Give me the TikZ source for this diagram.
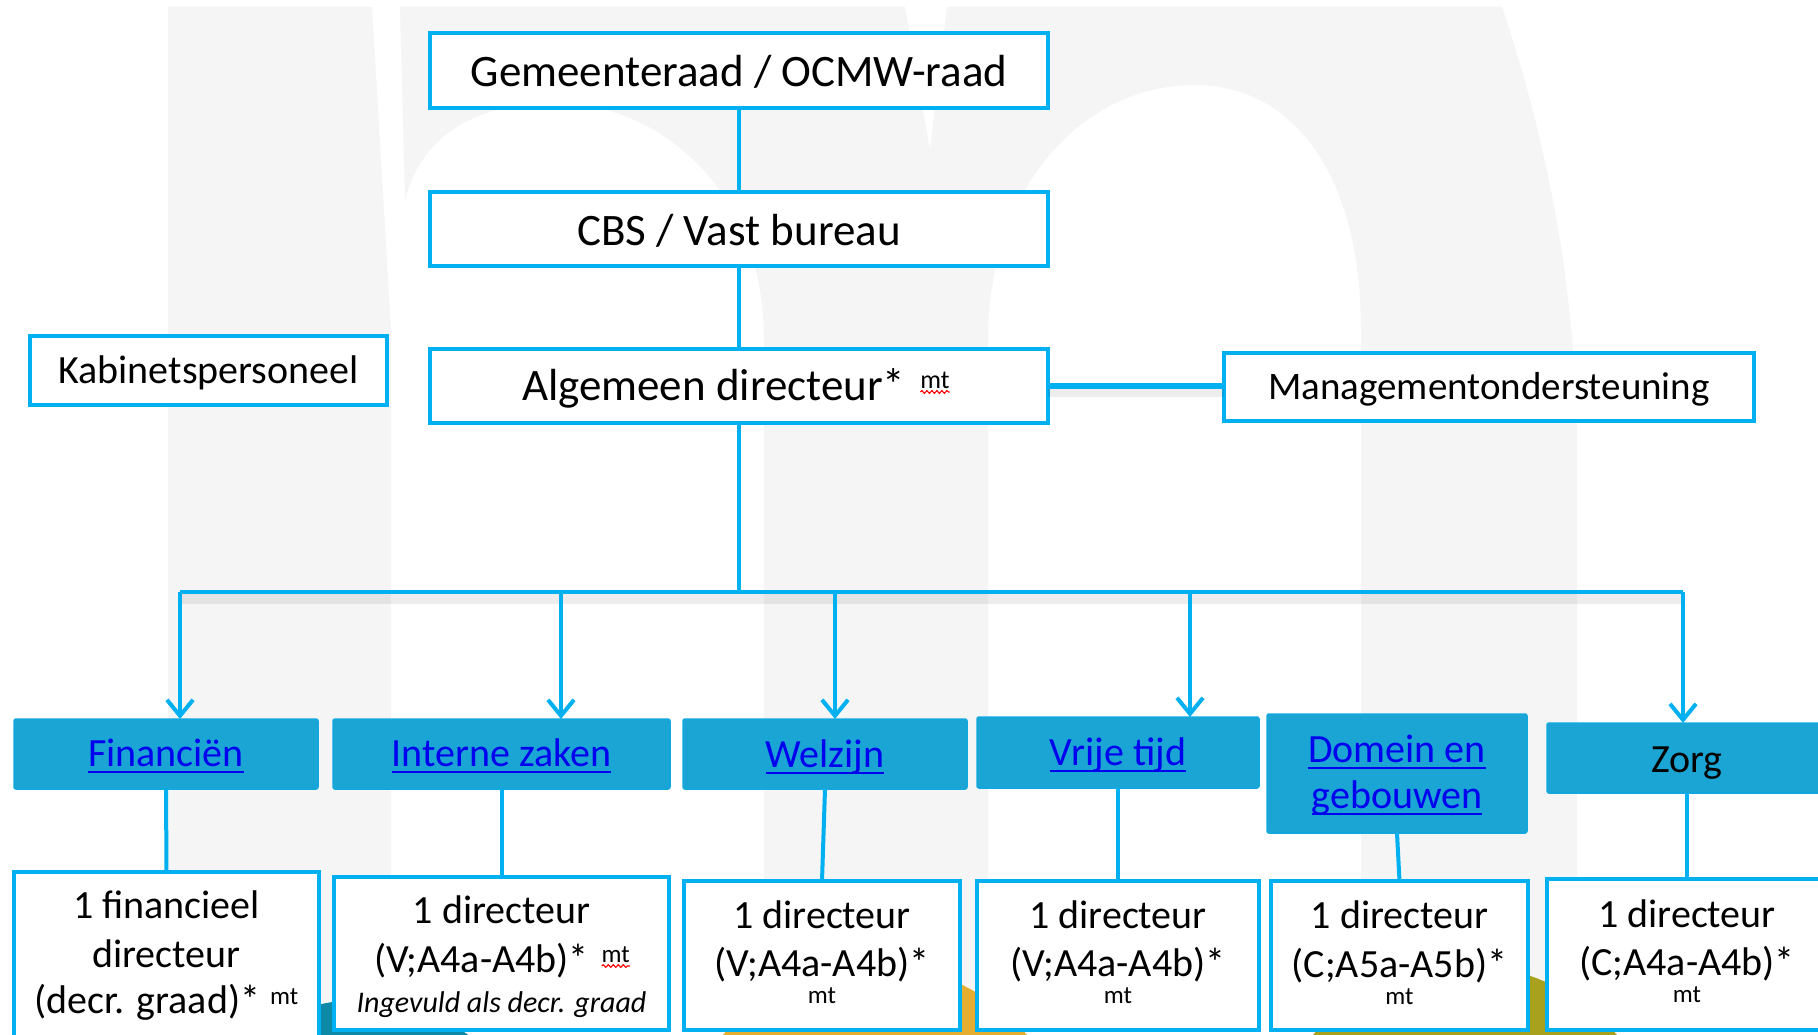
\documentclass[tikz,border=0pt]{standalone}
\usepackage{fontspec}
\setmainfont{Carlito}
\usetikzlibrary{arrows.meta,decorations.pathmorphing}
\definecolor{lblue}{HTML}{00B0F0}
\definecolor{dblue}{HTML}{1AA5D5}
\definecolor{linkc}{HTML}{0000EE}
\definecolor{bggrey}{HTML}{F5F5F5}
\definecolor{teal1}{HTML}{0E8AA8}
\definecolor{yel}{HTML}{E6AE30}
\definecolor{oli}{HTML}{A8A11E}
\newcommand\fs[1]{\fontsize{#1}{#1}\selectfont}
\tikzset{
  wbox/.style={draw=lblue, line width=4pt, fill=white, inner sep=0pt, outer sep=0pt},
  dbox/.style={fill=dblue, draw=dblue!70!lblue, line width=1.5pt, rounded corners=2pt, inner sep=0pt, outer sep=0pt},
  conn/.style={draw=lblue, line width=4pt},
  arr/.style={conn, -{Straight Barb[length=16pt,width=26pt]}},
  tx/.style={anchor=base, inner sep=0pt, outer sep=0pt, text=black},
  lnk/.style={tx, text=linkc, font=\fs{40}},
  uline/.style={draw=linkc, line width=2.2pt},
  wave/.style={draw=red, line width=1.1pt, decorate, decoration={snake, amplitude=1.4pt, segment length=5pt}},
  shad/.style={draw=black, opacity=0.07, line width=10pt},
}
\begin{document}
\begin{tikzpicture}[x=1pt, y=-1pt]
\useasboundingbox (0,0) rectangle (1818,1035);
\clip (0,0) rectangle (1818,1035);
\fill[white] (0,0) rectangle (1818,1035);
% background logo
\fill[bggrey] (168,7) -- (372,7) -- (391,330) -- (391,1035) -- (168,1035) -- cycle;
\fill[bggrey] (400,7) -- (905,7) -- (930,150) -- (947,7) -- (1502,7) .. controls (1550,150) and (1577,300) .. (1577,450) -- (1577,1035) -- (1361,1035) -- (1361,330)
  .. controls (1361,170) and (1290,85) .. (1195,85) .. controls (1080,85) and (988,190) .. (988,340) -- (988,1035) -- (764,1035) -- (764,340)
  .. controls (764,190) and (660,103) .. (555,103) .. controls (470,103) and (420,140) .. (405,200) -- cycle;
\fill[teal1] (360,1185) circle (185);
\fill[yel] (875,1165) circle (200);
\fill[oli] (1465,1165) circle (200);

% top boxes
\node[wbox, minimum width=618pt, minimum height=75pt] (g) at (739,70.5) {};
\node[wbox, minimum width=618pt, minimum height=74pt] (c) at (739,229) {};
\node[wbox, minimum width=618pt, minimum height=74pt] (a) at (739,386) {};
\node[wbox, minimum width=357pt, minimum height=69pt] (k) at (208.5,370.5) {};
\node[wbox, minimum width=530pt, minimum height=68pt] (m) at (1489,387) {};

\node[tx, font=\fs{45}] (gt) at (739,87) {Gemeenteraad / OCMW-raad};
\node[tx, font=\fs{45}] (ct) at (739,245) {CBS / Vast bureau};
\node[tx, font=\fs{45}, anchor=base west] (at) at (522,400) {Algemeen directeur*};
\node[tx, font=\fs{26}, anchor=base west] (amt) at ([xshift=15pt,yshift=12pt]at.base east) {mt};
\draw[wave] ([yshift=-4pt]amt.base west) -- ([yshift=-4pt]amt.base east);
\node[tx, font=\fs{40}] (kt) at (208.5,383) {Kabinetspersoneel};
\node[tx, font=\fs{39}] (mtx) at (1489,399) {Managementondersteuning};

% connectors top
\draw[conn] (g.south) -- (c.north);
\draw[conn] (c.south) -- (a.north);
\draw[shad] ([yshift=-6pt]a.east) -- ([yshift=-6pt]a.east -| m.west);
\draw[conn, line width=6pt] (a.east) -- (a.east -| m.west);

% department boxes
\node[dbox, minimum width=304pt, minimum height=70pt] (d1) at (166,754) {};
\node[dbox, minimum width=337pt, minimum height=70pt] (d2) at (501.5,754) {};
\node[dbox, minimum width=284pt, minimum height=70pt] (d3) at (825,754) {};
\node[dbox, minimum width=282pt, minimum height=71pt] (d4) at (1118,752.5) {};
\node[dbox, minimum width=260pt, minimum height=119pt] (d5) at (1397,773.5) {};
\node[dbox, minimum width=280pt, minimum height=70pt] (d6) at (1687,758) {};

\node[lnk] (d1t) at (166,766) {Financiën};
\node[lnk] (d2t) at (501.5,766) {Interne zaken};
\node[lnk] (d3t) at (825,767) {Welzijn};
\node[lnk] (d4t) at (1118,765) {Vrije tijd};
\node[lnk] (d5t) at (1397,762) {Domein en};
\node[lnk] (d5u) at (1397,808) {gebouwen};
\node[tx, font=\fs{40}] (d6t) at (1687,772) {Zorg};
\foreach \n in {d1t,d2t,d3t,d4t,d5t,d5u}
  \draw[uline] ([yshift=-6pt]\n.base west) -- ([yshift=-6pt]\n.base east);

% bus and arrows
\coordinate (j) at (739,592);
\coordinate (busL) at (180,592);
\coordinate (busR) at (1683,592);
\coordinate (t2) at (561,592);
\coordinate (t3) at (835,592);
\coordinate (t4) at (1190,592);
\draw[shad] ([yshift=-7pt]busL) -- ([yshift=-7pt]busR);
\draw[conn] (a.south) -- (j);
\draw[conn] (busL) -- (busR);
\draw[arr] (busL) -- (busL |- d1.north);
\draw[arr] (t2) -- (t2 |- d2.north);
\draw[arr] (t3) -- (t3 |- d3.north);
\draw[arr] (t4) -- (t4 |- d4.north);
\draw[arr] (busR) -- (busR |- d6.north);

% bottom boxes
\node[wbox, minimum width=305pt, minimum height=178pt] (b1) at (166.5,961) {};
\node[wbox, minimum width=335pt, minimum height=153pt] (b2) at (501.5,953.5) {};
\node[wbox, minimum width=276pt, minimum height=149pt] (b3) at (822,955.5) {};
\node[wbox, minimum width=282pt, minimum height=149pt] (b4) at (1118,955.5) {};
\node[wbox, minimum width=257pt, minimum height=149pt] (b5) at (1399.5,955.5) {};
\node[wbox, minimum width=280pt, minimum height=151pt] (b6) at (1687,954.5) {};

\draw[conn] (d1.south) -- (b1.north);
\draw[conn] (d2.south) -- (b2.north);
\draw[conn] (d3.south) -- (b3.north);
\draw[conn] (d4.south) -- (b4.north);
\draw[conn] (d5.south) -- (b5.north);
\draw[conn] (d6.south) -- (b6.north);

% bottom texts
\node[tx, font=\fs{40}] (b1a) at (166.5,918) {1 financieel};
\node[tx, font=\fs{40}] (b1b) at (166.5,967) {directeur};
\node[tx, font=\fs{40}] (b1c) at (166.5,1013) {(decr. graad)*\hspace{10pt}\raisebox{9pt}{\fs{25}mt}};

\node[tx, font=\fs{40}] (b2a) at (501.5,923) {1 directeur};
\node[tx, font=\fs{40}, anchor=base west] (b2b) at (374,972) {(V;A4a-A4b)*};
\node[tx, font=\fs{25}, anchor=base west] (b2mt) at ([xshift=13pt,yshift=10pt]b2b.base east) {mt};
\draw[wave] ([yshift=-4pt]b2mt.base west) -- ([yshift=-4pt]b2mt.base east);
\node[tx, font=\fs{30}\itshape] (b2c) at (501.5,1012) {Ingevuld als decr. graad};

\node[tx, font=\fs{40}] (b3a) at (822,928) {1 directeur};
\node[tx, font=\fs{40}] (b3b) at (822,976) {(V;A4a-A4b)*};
\node[tx, font=\fs{25}] (b3c) at (822,1003) {mt};

\node[tx, font=\fs{40}] (b4a) at (1118,928) {1 directeur};
\node[tx, font=\fs{40}] (b4b) at (1118,976) {(V;A4a-A4b)*};
\node[tx, font=\fs{25}] (b4c) at (1118,1003) {mt};

\node[tx, font=\fs{40}] (b5a) at (1399.5,928) {1 directeur};
\node[tx, font=\fs{40}] (b5b) at (1399.5,977) {(C;A5a-A5b)*};
\node[tx, font=\fs{25}] (b5c) at (1399.5,1004) {mt};

\node[tx, font=\fs{40}] (b6a) at (1687,927) {1 directeur};
\node[tx, font=\fs{40}] (b6b) at (1687,975) {(C;A4a-A4b)*};
\node[tx, font=\fs{25}] (b6c) at (1687,1002) {mt};
\end{tikzpicture}
\end{document}
